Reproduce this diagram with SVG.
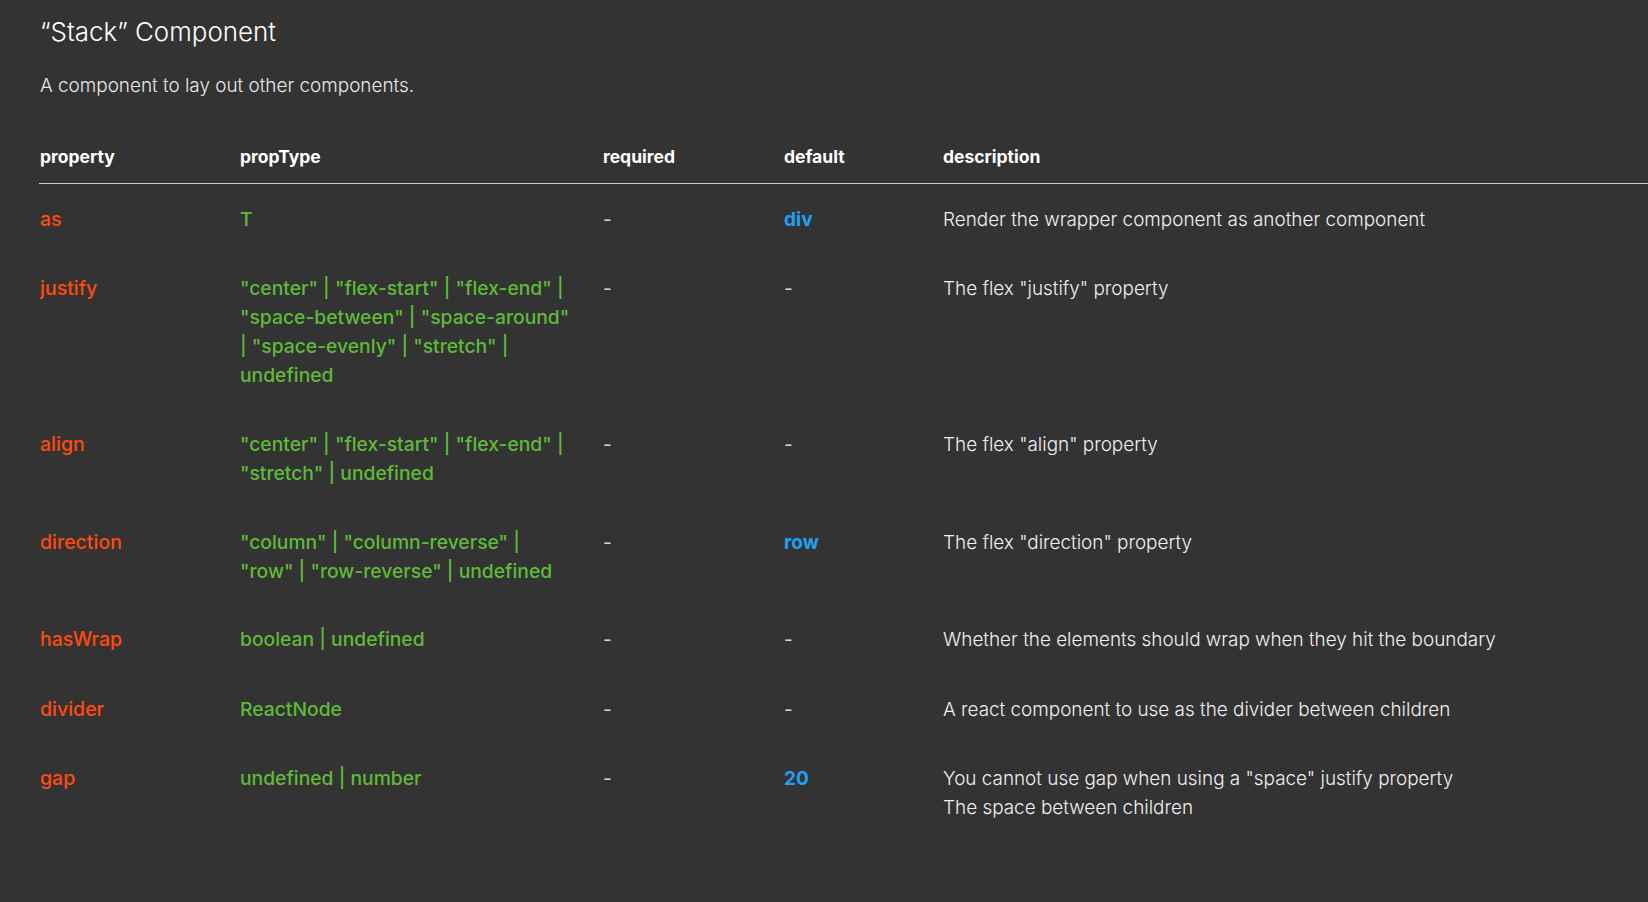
<svg xmlns="http://www.w3.org/2000/svg" width="1648" height="902" viewBox="0 0 1648 902">
<style>
text{font-family:Inter,"Noto Sans","Liberation Sans",sans-serif;}
.title{font-size:25.9px;font-weight:300;fill:#ffffff;}
.sub{font-size:18.9px;font-weight:300;fill:#e8e8e8;}
.hd{font-size:17.5px;font-weight:700;fill:#ffffff;}
.prop{font-size:19.5px;font-weight:500;fill:#ff4a0f;}
.type{font-size:19.3px;font-weight:500;fill:#5fba38;}
.dash{font-size:19px;fill:#d8d8d8;}
.def{font-size:19px;font-weight:700;fill:#1ea1f2;}
.desc{font-size:18.9px;font-weight:300;fill:#f0f0f0;}
</style>
<rect width="1648" height="902" fill="#333333"/>
<g id="heading">
<text class="title" x="40" y="41">“Stack” Component</text>
<text class="sub" x="40" y="92">A component to lay out other components.</text>
</g>
<g id="header">
<text class="hd" x="40" y="163">property</text>
<text class="hd" x="240" y="163">propType</text>
<text class="hd" x="603" y="163">required</text>
<text class="hd" x="784" y="163">default</text>
<text class="hd" x="943" y="163">description</text>
</g>
<g id="connectors">
<line x1="39" y1="183.5" x2="1648" y2="183.5" stroke="#cfcfcf" stroke-width="1"/>
</g>
<g id="row-as">
<text class="prop" x="40" y="226">as</text>
<text class="type" x="240" y="226">T</text>
<text class="dash" x="603" y="226">-</text>
<text class="def" x="784" y="226">div</text>
<text class="desc" x="943" y="226">Render the wrapper component as another component</text>
</g>
<g id="row-justify">
<text class="prop" x="40" y="295">justify</text>
<text class="type" x="240" y="295">"center" | "flex-start" | "flex-end" |</text>
<text class="type" x="240" y="324">"space-between" | "space-around"</text>
<text class="type" x="240" y="353">| "space-evenly" | "stretch" |</text>
<text class="type" x="240" y="382">undefined</text>
<text class="dash" x="603" y="295">-</text>
<text class="dash" x="784" y="295">-</text>
<text class="desc" x="943" y="295">The flex "justify" property</text>
</g>
<g id="row-align">
<text class="prop" x="40" y="451">align</text>
<text class="type" x="240" y="451">"center" | "flex-start" | "flex-end" |</text>
<text class="type" x="240" y="480">"stretch" | undefined</text>
<text class="dash" x="603" y="451">-</text>
<text class="dash" x="784" y="451">-</text>
<text class="desc" x="943" y="451">The flex "align" property</text>
</g>
<g id="row-direction">
<text class="prop" x="40" y="549">direction</text>
<text class="type" x="240" y="549">"column" | "column-reverse" |</text>
<text class="type" x="240" y="578">"row" | "row-reverse" | undefined</text>
<text class="dash" x="603" y="549">-</text>
<text class="def" x="784" y="549">row</text>
<text class="desc" x="943" y="549">The flex "direction" property</text>
</g>
<g id="row-hasWrap">
<text class="prop" x="40" y="646">hasWrap</text>
<text class="type" x="240" y="646">boolean | undefined</text>
<text class="dash" x="603" y="646">-</text>
<text class="dash" x="784" y="646">-</text>
<text class="desc" x="943" y="646">Whether the elements should wrap when they hit the boundary</text>
</g>
<g id="row-divider">
<text class="prop" x="40" y="716">divider</text>
<text class="type" x="240" y="716">ReactNode</text>
<text class="dash" x="603" y="716">-</text>
<text class="dash" x="784" y="716">-</text>
<text class="desc" x="943" y="716">A react component to use as the divider between children</text>
</g>
<g id="row-gap">
<text class="prop" x="40" y="785">gap</text>
<text class="type" x="240" y="785">undefined | number</text>
<text class="dash" x="603" y="785">-</text>
<text class="def" x="784" y="785">20</text>
<text class="desc" x="943" y="785">You cannot use gap when using a "space" justify property</text>
<text class="desc" x="943" y="814">The space between children</text>
</g>
</svg>
